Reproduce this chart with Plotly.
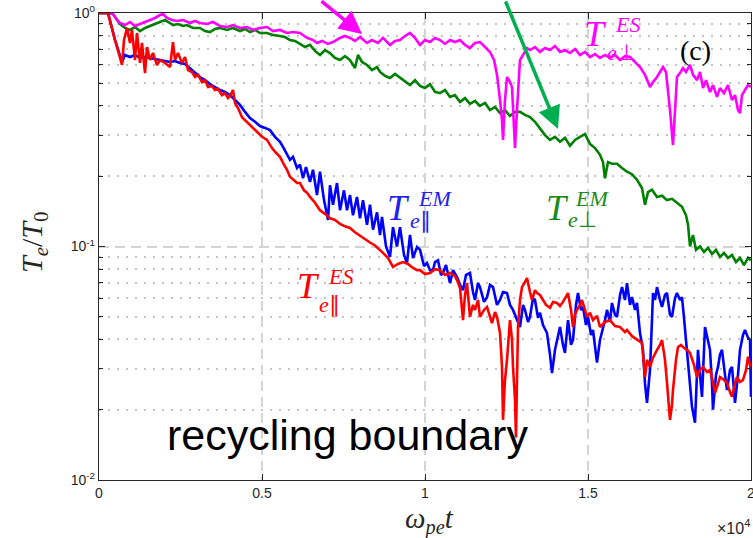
import plotly.graph_objects as go

# ---------------- data ----------------
# T_e_perp^ES (magenta)
x_es_perp = [0,276,429,552,644,798,951,1104,1258,1411,1564,1718,1871,1963,2086,2239,2393,2577,2791,2945,
             3098,3313,3497,3712,3926,4110,4325,4540,4724,4939,5153,5337,5552,5767,5951,6166,6380,6564,6687,6841,
             7025,7178,7393,7546,7699,7853,8006,8221,8374,8558,8712,8926,9080,9233,9387,9540,9693,9847,10000,10153,
             10307,10460,10614,10767,10920,11074,11227,11380,11534,11687,11841,11994,12117,12209,12301,12362,12393,12454,12515,12607,
             12669,12730,12761,12822,12914,13006,13129,13221,13374,13528,13681,13834,13988,14141,14294,14448,14601,14755,14908,15061,
             15215,15368,15521,15675,15828,15982,16135,16288,16442,16595,16749,16902,16994,17117,17209,17301,17393,17454,17515,17607,
             17669,17730,17822,17914,18006,18129,18221,18344,18436,18528,18620,18742,18834,18957,19049,19172,19294,19417,19509,19601,
             19663,19724,19816,19908,20000]
y_es_perp = [1.0,1.0,0.990,0.933,0.906,0.888,0.915,0.880,0.897,0.915,
             0.933,0.952,0.980,0.990,0.952,0.933,0.924,0.933,0.906,0.924,
             0.906,0.897,0.915,0.880,0.871,0.888,0.863,0.871,0.846,0.863,
             0.871,0.837,0.846,0.821,0.829,0.821,0.782,0.766,0.744,0.759,
             0.737,0.751,0.782,0.797,0.782,0.759,0.789,0.744,0.766,0.744,
             0.782,0.730,0.759,0.766,0.797,0.821,0.782,0.730,0.766,0.751,
             0.782,0.766,0.737,0.766,0.751,0.766,0.730,0.708,0.744,0.751,
             0.715,0.681,0.629,0.543,0.424,0.348,0.286,0.424,0.532,0.506,
             0.482,0.348,0.264,0.384,0.629,0.661,0.708,0.694,0.715,0.681,
             0.708,0.694,0.722,0.681,0.694,0.674,0.701,0.661,0.681,0.648,
             0.667,0.642,0.661,0.642,0.661,0.629,0.654,0.648,0.617,0.587,
             0.543,0.482,0.506,0.532,0.559,0.587,0.559,0.468,0.384,0.272,
             0.384,0.532,0.553,0.581,0.559,0.599,0.543,0.516,0.559,0.477,
             0.516,0.459,0.491,0.437,0.477,0.454,0.491,0.424,0.445,0.384,
             0.373,0.445,0.468,0.491,0.482]

# T_e_perp^EM (green)
x_em_perp = [0,276,429,552,644,798,951,1104,1258,1411,
             1564,1718,1871,2025,2178,2270,2423,2577,2699,2883,
             3098,3252,3405,3558,3712,3926,4110,4325,4479,4632,
             4785,4939,5153,5337,5552,5706,5859,6012,6166,6319,
             6472,6626,6779,6933,7086,7239,7393,7546,7699,7853,
             7945,8068,8221,8374,8528,8620,8773,8926,9080,9233,
             9387,9540,9693,9847,10000,10153,10307,10460,10614,10767,
             10920,11074,11227,11380,11534,11687,11841,11994,12147,12301,
             12454,12607,12761,12914,13067,13221,13374,13528,13681,13834,
             13988,14141,14294,14448,14601,14755,14908,15061,15215,15368,
             15460,15521,15613,15736,15890,16043,16196,16350,16503,16656,
             16749,16841,16963,17117,17270,17423,17577,17730,17883,18006,
             18068,18129,18221,18313,18436,18558,18681,18804,18926,19049,
             19172,19294,19417,19540,19663,19785,19908,20000]
y_em_perp = [1.0,1.0,0.990,0.933,0.897,0.863,0.846,0.871,0.837,0.863,
             0.880,0.897,0.915,0.933,0.906,0.888,0.897,0.880,0.888,0.863,
             0.863,0.837,0.829,0.854,0.863,0.846,0.863,0.837,0.854,0.829,
             0.846,0.821,0.821,0.805,0.797,0.789,0.766,0.759,0.737,0.715,
             0.730,0.688,0.661,0.694,0.674,0.642,0.629,0.654,0.629,0.581,
             0.661,0.617,0.599,0.570,0.587,0.559,0.538,0.527,0.548,0.527,
             0.506,0.491,0.516,0.487,0.477,0.496,0.459,0.454,0.468,0.437,
             0.445,0.416,0.432,0.408,0.420,0.400,0.412,0.384,0.396,0.373,
             0.384,0.362,0.377,0.377,0.366,0.358,0.342,0.322,0.300,0.286,
             0.295,0.281,0.292,0.270,0.286,0.295,0.303,0.275,0.264,0.247,
             0.230,0.196,0.230,0.226,0.226,0.217,0.209,0.204,0.193,0.178,
             0.151,0.171,0.175,0.163,0.165,0.158,0.160,0.154,0.148,0.136,
             0.124,0.100,0.112,0.0968,0.100,0.0947,0.0987,0.0929,0.0968,0.0902,
             0.0938,0.0893,0.0920,0.0858,0.0893,0.0833,0.0893,0.0873]

# T_e_par^EM (blue)
x_em_par = [0,276,491,706,798,951,1104,1258,1411,1564,
            1718,1871,2025,2178,2331,2485,2638,2791,2945,3098,
            3252,3405,3558,3712,3865,4018,4172,4325,4479,4632,
            4785,4939,5092,5245,5399,5552,5644,5767,5859,5951,
            6074,6166,6258,6350,6472,6564,6687,6779,6902,7025,
            7086,7178,7301,7393,7515,7608,7699,7791,7914,8006,
            8098,8221,8313,8405,8528,8620,8681,8804,8926,9018,
            9141,9233,9356,9448,9540,9632,9755,9847,9969,10061,
            10153,10245,10307,10399,10491,10552,10644,10767,10859,10982,
            11074,11166,11258,11380,11472,11534,11626,11687,11810,11902,
            11994,12086,12209,12301,12393,12515,12607,12699,12822,12914,
            13006,13067,13160,13221,13313,13374,13466,13528,13620,13742,
            13834,13896,13988,14080,14141,14233,14294,14387,14479,14540,
            14632,14693,14785,14847,14939,15000,15092,15153,15215,15276,
            15368,15429,15521,15583,15675,15736,15828,15890,15982,16043,
            16135,16196,16288,16350,16442,16503,16595,16687,16749,16810,
            16871,16902,16963,16994,17055,17117,17209,17270,17362,17423,
            17515,17577,17669,17730,17822,17883,17945,17976,18068,18129,
            18190,18282,18344,18374,18436,18497,18589,18651,18742,18804,
            18834,18926,18988,19049,19110,19202,19264,19356,19417,19478,
            19509,19601,19663,19755,19816,19908,19969,20000]
y_em_par = [1.0,1.0,0.766,0.617,0.661,0.648,0.661,0.642,0.648,0.642,
            0.636,0.629,0.623,0.617,0.623,0.611,0.605,0.581,0.559,0.532,
            0.516,0.496,0.482,0.468,0.459,0.445,0.424,0.404,0.377,0.355,
            0.342,0.328,0.322,0.315,0.295,0.281,0.267,0.247,0.235,0.242,
            0.217,0.224,0.196,0.219,0.189,0.213,0.166,0.209,0.158,0.130,
            0.183,0.151,0.187,0.143,0.174,0.143,0.166,0.136,0.163,0.132,
            0.158,0.124,0.151,0.118,0.140,0.112,0.134,0.100,0.0902,0.121,
            0.100,0.121,0.0920,0.0850,0.112,0.0893,0.0995,0.0968,0.0825,0.0850,
            0.0792,0.0792,0.0858,0.0873,0.0755,0.0770,0.0833,0.0698,0.0792,0.0740,
            0.0684,0.0650,0.0755,0.0770,0.0638,0.0590,0.0698,0.0670,0.0579,0.0607,
            0.0684,0.0670,0.0562,0.0590,0.0638,0.0632,0.0562,0.0535,0.0484,0.0452,
            0.0562,0.0535,0.0475,0.0500,0.0601,0.0590,0.0495,0.0520,0.0461,0.0426,
            0.0344,0.0287,0.0361,0.0418,0.0452,0.0379,0.0350,0.0484,0.0379,0.0398,
            0.0562,0.0632,0.0535,0.0551,0.0461,0.0500,0.0418,0.0439,0.0361,0.0318,
            0.0398,0.0426,0.0484,0.0535,0.0475,0.0573,0.0510,0.0500,0.0620,0.0670,
            0.0590,0.0697,0.0562,0.0607,0.0535,0.0573,0.0426,0.0361,0.0258,0.0214,
            0.0268,0.0296,0.0484,0.0632,0.0590,0.0670,0.0590,0.0551,0.0620,0.0632,
            0.0510,0.0500,0.0601,0.0632,0.0590,0.0607,0.0495,0.0439,0.0305,0.0243,
            0.0206,0.0176,0.0268,0.0361,0.0282,0.0227,0.0452,0.0407,0.0361,0.0258,
            0.0200,0.0282,0.0305,0.0344,0.0361,0.0282,0.0243,0.0296,0.0305,0.0243,
            0.0214,0.0282,0.0361,0.0418,0.0439,0.0407,0.0398,0.0227]

# T_e_par^ES (red)
x_es_par = [0,276,491,706,767,859,951,1012,1104,1166,
            1258,1319,1411,1472,1564,1656,1779,1871,2025,2178,
            2270,2331,2423,2546,2638,2730,2853,2945,3037,3160,
            3252,3344,3466,3558,3650,3773,3865,3957,4018,4080,
            4110,4172,4264,4387,4479,4571,4693,4785,4877,5000,
            5153,5307,5429,5552,5675,5767,5859,5951,6074,6166,
            6288,6380,6472,6626,6779,6933,7086,7239,7393,7546,
            7699,7853,8006,8160,8313,8466,8620,8712,8865,9018,
            9172,9325,9479,9632,9755,9847,10000,10153,10307,10460,
            10614,10767,10920,10982,11074,11166,11227,11288,11380,11472,
            11534,11626,11687,11810,11902,11994,12055,12147,12209,12301,
            12362,12393,12454,12515,12607,12669,12699,12761,12791,12822,
            12853,12914,12975,13067,13129,13221,13282,13374,13436,13528,
            13620,13712,13834,13926,14049,14141,14233,14325,14387,14479,
            14540,14601,14663,14755,14816,14908,14969,15061,15153,15276,
            15368,15521,15675,15828,15982,16135,16196,16350,16503,16656,
            16749,16810,16902,16994,17117,17209,17270,17362,17423,17485,
            17515,17577,17607,17699,17761,17853,17914,18037,18129,18252,
            18344,18436,18528,18651,18742,18834,18896,18988,19049,19172,
            19264,19356,19417,19509,19571,19663,19755,19847,19908,19969,
            20000]
y_es_par = [1.0,1.0,0.766,0.599,0.766,0.863,0.744,0.846,0.629,0.821,
            0.611,0.744,0.553,0.715,0.629,0.674,0.599,0.629,0.611,0.587,
            0.751,0.629,0.674,0.611,0.648,0.570,0.559,0.532,0.543,0.506,
            0.516,0.482,0.487,0.468,0.473,0.445,0.454,0.432,0.441,0.459,
            0.468,0.412,0.392,0.358,0.348,0.338,0.325,0.315,0.309,0.295,
            0.286,0.264,0.252,0.242,0.224,0.213,0.199,0.193,0.187,0.187,
            0.174,0.170,0.163,0.154,0.143,0.138,0.132,0.130,0.125,0.122,
            0.120,0.115,0.111,0.107,0.104,0.101,0.0968,0.0939,0.0893,0.0817,
            0.0842,0.0858,0.0842,0.0809,0.0792,0.0792,0.0762,0.0770,0.0800,0.0792,
            0.0755,0.0770,0.0747,0.0718,0.0664,0.0484,0.0620,0.0697,0.0500,0.0562,
            0.0535,0.0590,0.0500,0.0535,0.0551,0.0495,0.0470,0.0524,0.0500,0.0426,
            0.0305,0.0181,0.0268,0.0327,0.0484,0.0398,0.0305,0.0221,0.0152,0.0268,
            0.0452,0.0590,0.0670,0.0704,0.0733,0.0638,0.0590,0.0650,0.0632,0.0620,
            0.0590,0.0562,0.0546,0.0579,0.0573,0.0556,0.0579,0.0614,0.0632,0.0535,
            0.0452,0.0510,0.0535,0.0562,0.0590,0.0535,0.0500,0.0520,0.0484,0.0505,
            0.0452,0.0475,0.0484,0.0456,0.0452,0.0430,0.0439,0.0413,0.0398,0.0386,
            0.0276,0.0327,0.0305,0.0334,0.0361,0.0379,0.0398,0.0327,0.0261,0.0200,
            0.0181,0.0210,0.0243,0.0327,0.0371,0.0379,0.0371,0.0361,0.0350,0.0311,
            0.0276,0.0296,0.0305,0.0290,0.0296,0.0263,0.0236,0.0258,0.0276,0.0268,
            0.0261,0.0238,0.0227,0.0258,0.0276,0.0263,0.0268,0.0296,0.0337,0.0311,
            0.0305]

x_tick_vals = [0, 5000, 10000, 15000, 20000]
x_tick_text = ["0", "0.5", "1", "1.5", "2"]
y_tick_vals = [0.01, 0.1, 1]
y_tick_text = ["10<sup>-2</sup>", "10<sup>-1</sup>", "10<sup>0</sup>"]
y_minor_vals = [0.02, 0.03, 0.04, 0.05, 0.06, 0.07, 0.08, 0.09,
                0.2, 0.3, 0.4, 0.5, 0.6, 0.7, 0.8, 0.9]

# ---------------- figure ----------------
W, H = 753, 538
L, R, T, B = 99, 2, 13, 58
PW, PH = W - L - R, H - T - B


def px(xp):
    return (xp - L) / PW


def py(yp):
    return (H - B - yp) / PH


fig = go.Figure()
LW = 2.6
fig.add_trace(go.Scatter(x=x_em_perp, y=y_em_perp, mode="lines",
                         line=dict(color="#008000", width=LW), showlegend=False))
fig.add_trace(go.Scatter(x=x_es_perp, y=y_es_perp, mode="lines",
                         line=dict(color="#FF00FF", width=LW), showlegend=False))
fig.add_trace(go.Scatter(x=x_em_par, y=y_em_par, mode="lines",
                         line=dict(color="#0000FF", width=LW), showlegend=False))
fig.add_trace(go.Scatter(x=x_es_par, y=y_es_par, mode="lines",
                         line=dict(color="#FF0000", width=LW), showlegend=False))

AX = "#262626"
tickfont = dict(family="Liberation Sans, Arial, sans-serif", size=14, color=AX)

fig.update_layout(
    width=W, height=H,
    margin=dict(l=L, r=R, t=T, b=B, autoexpand=False),
    paper_bgcolor="white", plot_bgcolor="white",
    xaxis=dict(range=[0, 20000], tickvals=x_tick_vals, ticktext=x_tick_text,
               ticks="inside", ticklen=6, tickcolor=AX, tickwidth=1,
               showline=True, linecolor=AX, linewidth=1.3, mirror="ticks",
               showgrid=True, gridcolor="#d4d4d4", gridwidth=1.5, griddash="10px,6px",
               zeroline=False, tickfont=tickfont, ticklabeloverflow="allow",
               automargin=False),
    yaxis=dict(type="log", range=[-2, 0], tickvals=y_tick_vals, ticktext=y_tick_text,
               ticks="inside", ticklen=6, tickcolor=AX, tickwidth=1,
               showline=True, linecolor=AX, linewidth=1.3, mirror="ticks",
               showgrid=True, gridcolor="#d4d4d4", gridwidth=1.5, griddash="10px,6px",
               zeroline=False, tickfont=tickfont, ticklabeloverflow="allow",
               automargin=False,
               minor=dict(tickvals=y_minor_vals, ticks="inside", ticklen=4,
                          tickcolor=AX, tickwidth=1, showgrid=True,
                          gridcolor="#c4c4c4", gridwidth=1.5, griddash="2px,7px")),
)

serif = "Liberation Serif, Times New Roman, serif"
anns = []


def label(tx, ty, sx, sy, bx, by, sup, sub, color):
    anns.append(dict(xref="paper", yref="paper", x=px(tx), y=py(ty), text="<i>T</i>",
                     showarrow=False, font=dict(family=serif, size=36, color=color),
                     xanchor="center", yanchor="middle"))
    anns.append(dict(xref="paper", yref="paper", x=px(sx), y=py(sy), text="<i>%s</i>" % sup,
                     showarrow=False, font=dict(family=serif, size=22, color=color),
                     xanchor="center", yanchor="middle"))
    anns.append(dict(xref="paper", yref="paper", x=px(bx), y=py(by), text=sub,
                     showarrow=False, font=dict(family=serif, size=22, color=color),
                     xanchor="center", yanchor="middle"))


label(595, 34, 627, 25, 621, 53, "ES", "<i>e</i>⊥", "#FF00FF")
label(557, 208, 592, 198, 582, 219, "EM", "<i>e</i>⊥", "#1a8a1a")
label(398, 208, 435, 198, 420, 220, "EM", "<i>e</i>∥", "#2020F0")
label(308, 286, 340, 276, 329, 304, "ES", "<i>e</i>∥", "#FF0000")

anns += [
    dict(xref="paper", yref="paper", x=px(695), y=py(50), text="(c)", showarrow=False,
         font=dict(family=serif, size=28, color="black"), xanchor="center", yanchor="middle"),
    dict(xref="paper", yref="paper", x=px(347), y=py(435), text="recycling boundary",
         showarrow=False, font=dict(family="Liberation Sans, Arial, sans-serif", size=43, color="black"),
         xanchor="center", yanchor="middle"),
    dict(xref="paper", yref="paper", x=px(430), y=py(520),
         text="<i>ω</i><sub><i>pe</i></sub><i>t</i>", showarrow=False,
         font=dict(family=serif, size=29, color=AX), xanchor="center", yanchor="middle"),
    dict(xref="paper", yref="paper", x=px(34), y=py(242),
         text="<i>T</i><sub><i>e</i></sub>/<i>T</i><sub>0</sub>", showarrow=False, textangle=-90,
         font=dict(family=serif, size=30, color=AX), xanchor="center", yanchor="middle"),
    dict(xref="paper", yref="paper", x=px(752), y=py(527), text="×10<sup>4</sup>",
         showarrow=False, font=dict(family="Liberation Sans, Arial, sans-serif", size=16, color=AX),
         xanchor="right", yanchor="middle"),
    # arrows
    dict(xref="paper", yref="paper", x=px(362), y=py(34), ax=-42, ay=-42, axref="pixel", ayref="pixel",
         showarrow=True, arrowhead=2, arrowsize=1.3, arrowwidth=3.5, arrowcolor="#FF00FF", text=""),
    dict(xref="paper", yref="paper", x=px(558), y=py(129), ax=-53, ay=-136, axref="pixel", ayref="pixel",
         showarrow=True, arrowhead=2, arrowsize=1.3, arrowwidth=3.5, arrowcolor="#00B050", text=""),
]
fig.update_layout(annotations=anns)

fig.write_html("out.html")
